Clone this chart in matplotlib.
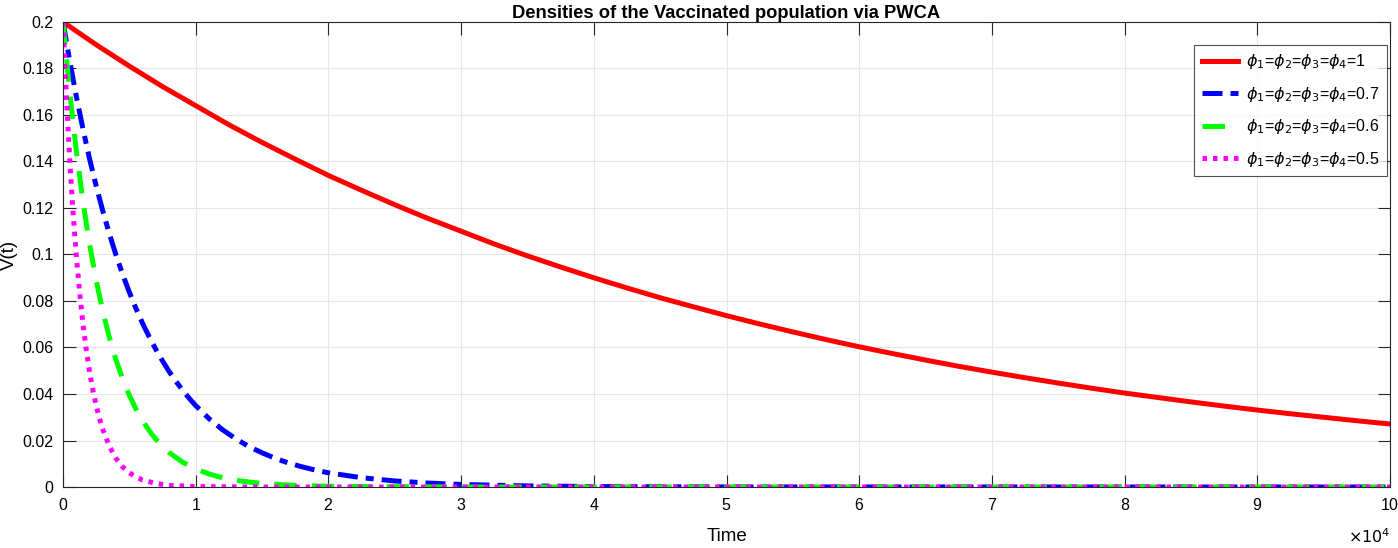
import numpy as np
import matplotlib
matplotlib.use('Agg')
import matplotlib.pyplot as plt

plt.rcParams['font.family'] = ['Liberation Sans', 'DejaVu Sans']
plt.rcParams['mathtext.fontset'] = 'dejavusans'

# values (time in units of 1e4)
t_red = [0, 0.25, 0.5, 0.75, 1, 1.25, 1.5, 1.75, 2, 2.25, 2.5, 2.75, 3, 3.25, 3.5,
         3.75, 4, 4.25, 4.5, 4.75, 5, 5.25, 5.5, 5.75, 6, 6.25, 6.5, 6.75, 7, 7.25,
         7.5, 7.75, 8, 8.25, 8.5, 8.75, 9, 9.25, 9.5, 9.75, 10]
v_red = [0.2, 0.1902, 0.181, 0.1722, 0.164, 0.1558, 0.1482, 0.141, 0.134, 0.1276,
         0.1214, 0.1155, 0.11, 0.1045, 0.0994, 0.0946, 0.09, 0.0856, 0.0814, 0.0775,
         0.0737, 0.0701, 0.0667, 0.0634, 0.0603, 0.0574, 0.0546, 0.0519, 0.0494,
         0.047, 0.0447, 0.0425, 0.0404, 0.0385, 0.0366, 0.0348, 0.0331, 0.0315,
         0.03, 0.0285, 0.0271]

t_blue = [0, 0.05, 0.1, 0.15, 0.2, 0.25, 0.3, 0.35, 0.4, 0.45, 0.5, 0.55, 0.6, 0.65,
          0.7, 0.75, 0.8, 0.85, 0.9, 0.95, 1.0, 1.1, 1.2, 1.3, 1.4, 1.5, 1.6, 1.7,
          1.8, 1.9, 2.0, 2.25, 2.5, 2.75, 3, 3.5, 4, 5, 10]
v_blue = [0.2, 0.1833, 0.168, 0.154, 0.1411, 0.1294, 0.1186, 0.1087, 0.0996, 0.0913,
          0.0837, 0.0767, 0.0703, 0.0645, 0.0591, 0.0542, 0.0496, 0.0455, 0.0417,
          0.0382, 0.035, 0.0294, 0.0247, 0.0208, 0.0174, 0.0147, 0.0123, 0.0103,
          0.0087, 0.0073, 0.0061, 0.004, 0.0026, 0.0017, 0.0011, 0.00047, 0.0002,
          0.00003, 0]

t_green = [0, 0.05, 0.1, 0.15, 0.2, 0.25, 0.3, 0.35, 0.4, 0.45, 0.5, 0.55, 0.6, 0.65,
           0.7, 0.8, 0.9, 1.0, 1.1, 1.2, 1.35, 1.5, 1.75, 2, 3, 10]
v_green = [0.2, 0.17, 0.1445, 0.1228, 0.1044, 0.0887, 0.0754, 0.0641, 0.0545, 0.0463,
           0.0394, 0.0335, 0.0284, 0.0242, 0.0205, 0.0148, 0.0107, 0.0078, 0.0056,
           0.004, 0.0025, 0.0015, 0.0007, 0.0003, 0, 0]

t_mag = [0, 0.025, 0.05, 0.075, 0.1, 0.125, 0.15, 0.175, 0.2, 0.225, 0.25, 0.275,
         0.3, 0.35, 0.4, 0.45, 0.5, 0.55, 0.6, 0.7, 0.8, 1.0, 1.5, 10]
v_mag = [0.2, 0.168, 0.141, 0.1184, 0.0995, 0.0836, 0.0702, 0.059, 0.0495, 0.0416,
         0.035, 0.0294, 0.0247, 0.0174, 0.0122, 0.0086, 0.0061, 0.0043, 0.003,
         0.0015, 0.0007, 0.0002, 0, 0]

labels = [r'$\phi_1$=$\phi_2$=$\phi_3$=$\phi_4$=1',
          r'$\phi_1$=$\phi_2$=$\phi_3$=$\phi_4$=0.7',
          r'$\phi_1$=$\phi_2$=$\phi_3$=$\phi_4$=0.6',
          r'$\phi_1$=$\phi_2$=$\phi_3$=$\phi_4$=0.5']

fig = plt.figure(figsize=(13.98, 5.48), dpi=100)
ax = fig.add_axes([0.0451, 0.1113, 0.9492, 0.8486])

scale = 1e4
ax.plot(np.array(t_red) * scale, v_red, color='#ff0000', lw=3.6, label=labels[0])
ax.plot(np.array(t_blue) * scale, v_blue, color='#0000ff', lw=3.6,
        dashes=(4, 1.6, 1.6, 1.6), label=labels[1])
ax.plot(np.array(t_green) * scale, v_green, color='#00ff00', lw=3.6,
        dashes=(4.5, 3), label=labels[2])
ax.plot(np.array(t_mag) * scale, v_mag, color='#ff00ff', lw=3.6,
        dashes=(0.9, 1.2), label=labels[3])

ax.set_xlim(0, 1e5)
ax.set_ylim(0, 0.2)
ax.set_xticks(np.arange(0, 1.01e5, 1e4))
ax.set_yticks(np.arange(0, 0.201, 0.02))
ax.set_yticklabels(['0', '0.02', '0.04', '0.06', '0.08', '0.1', '0.12', '0.14',
                    '0.16', '0.18', '0.2'])
ax.ticklabel_format(axis='x', style='sci', scilimits=(4, 4), useMathText=True)
ax.xaxis.get_offset_text().set_visible(False)
fig.text(1390 / 1398, 1 - 546 / 548, r'$\times10^{4}$', ha='right', va='bottom',
         fontsize=11.5)

ax.grid(True, color='#e6e6e6', lw=0.8)
ax.set_axisbelow(True)
ax.tick_params(direction='in', length=9, width=0.8, top=True, right=True,
               labelsize=11.5, color='#262626', pad=7)
for s in ax.spines.values():
    s.set_color('#262626')
    s.set_linewidth(0.8)

ax.set_title('Densities of the Vaccinated population via PWCA', fontsize=13.2,
             fontweight='bold', pad=3)
ax.set_xlabel('Time', fontsize=13.5, labelpad=11)
ax.set_ylabel('V(t)', fontsize=13.5, labelpad=3)

leg = ax.legend(loc='upper right', bbox_to_anchor=(0.9977, 0.9505), borderaxespad=0,
                fontsize=11.5, frameon=True, fancybox=False, edgecolor='#262626',
                handlelength=2.3, handletextpad=0.5, borderpad=0.45,
                labelspacing=0.85)
leg.get_frame().set_linewidth(0.8)

fig.savefig('out.png', dpi=100)
